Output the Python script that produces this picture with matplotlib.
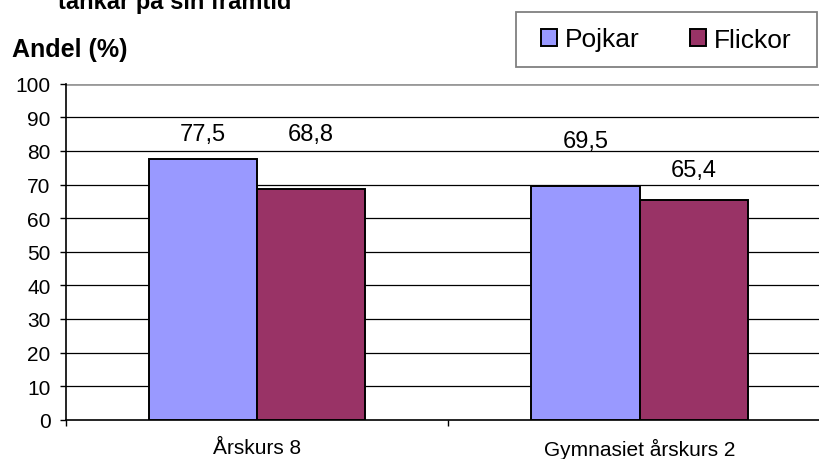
import numpy as np
from matplotlib import pyplot as plt
from matplotlib.patches import Patch, Rectangle

categories = ['Årskurs 8', 'Gymnasiet årskurs 2']
pojkar = [77.5, 69.5]
flickor = [68.8, 65.4]
series_names = ['Pojkar', 'Flickor']
y_ticks = list(range(0, 101, 10))

plt.rcParams['font.family'] = ['Liberation Sans', 'DejaVu Sans']

fig = plt.figure(figsize=(8.19, 4.6), dpi=100)
ax = fig.add_axes([0.0802, 0.0854, 0.9345, 0.7304])

x = np.arange(len(categories))
w = 0.283
colors = ['#9999FF', '#993366']

ax.bar(x - w / 2, pojkar, w, color=colors[0], edgecolor='black', linewidth=1.4, zorder=3)
ax.bar(x + w / 2, flickor, w, color=colors[1], edgecolor='black', linewidth=1.4, zorder=3)

# value labels (Excel put them at uneven heights)
offsets = [[7.6, 16.3], [13.6, 8.8]]
for i in range(len(categories)):
    for j, vals in enumerate([pojkar, flickor]):
        xpos = x[i] + (j - 0.5) * w
        ax.text(xpos, vals[i] + offsets[i][j], f'{vals[i]:.1f}'.replace('.', ','),
                ha='center', va='center', fontsize=17, zorder=4)

ax.set_xlim(-0.5, len(categories) - 0.5)
ax.set_ylim(0, 100)
ax.set_yticks(y_ticks)
ax.tick_params(axis='y', labelsize=15, length=4.5, width=1, direction='out', pad=6.5)

ax.set_xticks(np.arange(len(categories) + 1) - 0.5)
ax.set_xticklabels([])
ax.set_xticks(x, minor=True)
ax.set_xticklabels(categories, minor=True)
ax.tick_params(axis='x', which='major', length=4.5, width=1, direction='out')
ax.tick_params(axis='x', which='minor', length=0, labelsize=15, pad=13)

for yv in y_ticks[1:-1]:
    ax.axhline(yv, color='black', linewidth=0.9, zorder=1)
ax.axhline(100, color='#999999', linewidth=2, zorder=1)

for s in ['top', 'right']:
    ax.spines[s].set_visible(False)
ax.spines['left'].set_linewidth(1.2)
ax.spines['bottom'].set_linewidth(1.2)

# legend box drawn by hand, entries centred in it
bx0, bx1, by0, by1 = 516 / 819, 817 / 819, 1 - 68 / 460, 1 - 13 / 460
fig.patches.append(Rectangle((bx0, by0), bx1 - bx0, by1 - by0, transform=fig.transFigure,
                             facecolor='white', edgecolor='#808080', linewidth=1.3, zorder=5))
handles = [Patch(facecolor=c, edgecolor='black', linewidth=1.4) for c in colors]
leg = fig.legend(handles, series_names, loc='center', bbox_to_anchor=((bx0 + bx1) / 2, (by0 + by1) / 2),
                 ncol=2, fontsize=19, frameon=False, handlelength=0.6, handleheight=0.6,
                 handletextpad=0.3, columnspacing=1.9, borderpad=0)
leg.set_zorder(6)

fig.text(12 / 819, 1 - 50 / 460, 'Andel (%)', fontsize=18, fontweight='bold', va='center', ha='left')
fig.text(58 / 819, 1 - 9 / 460, 'tankar på sin framtid', fontsize=17, fontweight='bold',
         va='baseline', ha='left')

fig.savefig('out.png', dpi=100)
